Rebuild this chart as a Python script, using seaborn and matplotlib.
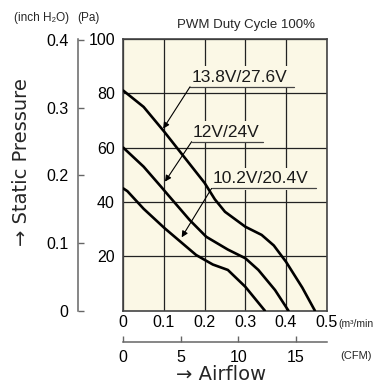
import numpy as np
import pandas as pd
import matplotlib
matplotlib.use("Agg")
import matplotlib.pyplot as plt
import seaborn as sns

# ---- data ----
x_hi = [0, 0.05, 0.1, 0.15, 0.2, 0.225, 0.25, 0.3, 0.34, 0.37, 0.4, 0.44, 0.471]
y_hi = [81, 75, 66, 56.5, 47, 41, 36.4, 30.9, 27.9, 24, 18, 8.5, 0]
x_mid = [0, 0.05, 0.093, 0.11, 0.163, 0.204, 0.257, 0.3, 0.332, 0.373, 0.406]
y_mid = [60, 53, 45.6, 42.6, 33.4, 27.2, 22.5, 19.3, 15, 7.6, 0]
x_lo = [0, 0.01, 0.05, 0.102, 0.179, 0.22, 0.257, 0.3, 0.348]
y_lo = [45, 44, 37.5, 30.3, 20.5, 17, 15, 8.8, 0]
series_names = ["13.8V/27.6V", "12V/24V", "10.2V/20.4V"]

pa_ticks = [20, 40, 60, 80, 100]
pa_labels = ["20", "40", "60", "80", "100"]
inch_ticks = [0, 0.1, 0.2, 0.3, 0.4]
inch_labels = ["0", "0.1", "0.2", "0.3", "0.4"]
m3_ticks = [0, 0.1, 0.2, 0.3, 0.4, 0.5]
m3_labels = ["0", "0.1", "0.2", "0.3", "0.4", "0.5"]
cfm_ticks = [0, 5, 10, 15]
cfm_labels = ["0", "5", "10", "15"]

# label annotation anchors: (underline x0, underline x1, underline y, arrow tip x, arrow tip y)
ann = {
    "13.8V/27.6V": (0.164, 0.42, 82.4, 0.098, 67.0),
    "12V/24V": (0.168, 0.343, 62.2, 0.1025, 47.5),
    "10.2V/20.4V": (0.217, 0.474, 45.0, 0.1435, 27.0),
}

df = pd.concat([
    pd.DataFrame({"airflow": x_hi, "pressure": y_hi, "series": series_names[0]}),
    pd.DataFrame({"airflow": x_mid, "pressure": y_mid, "series": series_names[1]}),
    pd.DataFrame({"airflow": x_lo, "pressure": y_lo, "series": series_names[2]}),
], ignore_index=True)

sns.set_theme(style="white")
FAM = ["Liberation Sans", "DejaVu Sans"]
plt.rcParams["font.family"] = FAM

BG = "#fbf8e6"
W, H = 390, 385
fig = plt.figure(figsize=(W / 100, H / 100), dpi=100)
L, R, T, B = 123.3, 326.7, 39.0, 310.7
ax = fig.add_axes([L / W, 1 - B / H, (R - L) / W, (B - T) / H])
ax.set_facecolor(BG)

sns.lineplot(data=df, x="airflow", y="pressure", units="series", estimator=None,
             sort=False, color="black", lw=1.9, legend=False, ax=ax, zorder=5)

TICK_FS = 11.5
ax.set_xlim(0, 0.5)
ax.set_ylim(0, 100)
ax.set_xlabel("")
ax.set_ylabel("")
ax.set_xticks(m3_ticks)
ax.set_xticklabels(m3_labels)
ax.set_yticks(pa_ticks)
ax.set_yticklabels(pa_labels)
ax.tick_params(axis="x", length=0, pad=3, labelsize=TICK_FS, colors="black")
ax.tick_params(axis="y", length=0, pad=6, labelsize=TICK_FS, colors="black")
ax.set_axisbelow(True)
ax.grid(True, color="#222222", lw=0.9)
for s in ax.spines.values():
    s.set_color("#444444")
    s.set_linewidth(1.2)

# outer inch H2O axis
sec_y = ax.secondary_yaxis(-45 / (R - L), functions=(lambda v: v / 249.09, lambda v: v * 249.09))
sec_y.set_yticks(inch_ticks)
sec_y.set_yticklabels(inch_labels)
sec_y.tick_params(direction="in", length=4, width=1, color="#666666", pad=7,
                  labelsize=TICK_FS, labelcolor="black")
sec_y.spines["left"].set_color("#666666")
sec_y.spines["left"].set_linewidth(1.1)

# lower CFM axis
sec_x = ax.secondary_xaxis(-31 / (B - T), functions=(lambda v: v * 35.3147, lambda v: v / 35.3147))
sec_x.set_xticks(cfm_ticks)
sec_x.set_xticklabels(cfm_labels)
sec_x.tick_params(direction="in", length=4, width=1, color="#666666", pad=6,
                  labelsize=TICK_FS, labelcolor="black")
sec_x.spines["bottom"].set_color("#666666")
sec_x.spines["bottom"].set_linewidth(1.1)

# curve labels with leaders
for name in series_names:
    x0, x1, yu, xt, yt = ann[name]
    ax.text(x0 + 0.003, yu + 0.8, name, fontsize=12.5, va="bottom", ha="left", zorder=3,
            color="#1a1a1a", bbox=dict(facecolor=BG, edgecolor="none", pad=2.5))
    ax.plot([x0, x1], [yu, yu], color="#444444", lw=0.9, zorder=4)
    ax.annotate("", xy=(xt, yt), xytext=(x0, yu),
                arrowprops=dict(arrowstyle="-|>", lw=0.8, color="black",
                                mutation_scale=9, shrinkA=0, shrinkB=0), zorder=4)

def ft(px, py, s, **kw):
    fig.text(px / W, 1 - py / H, s, **kw)

ft(14, 18, "(inch H₂O)", fontsize=8.5, va="center", ha="left")
ft(77, 18, "(Pa)", fontsize=8.5, va="center", ha="left")
ft(177, 25, "PWM Duty Cycle 100%", fontsize=9.5, va="center", ha="left")
ft(338, 324, "(m³/min", fontsize=7.5, va="center", ha="left")
ft(340, 356, "(CFM)", fontsize=8, va="center", ha="left")
ft(221, 375, "→ Airflow", fontsize=14, va="center", ha="center", family=["DejaVu Sans"])
ft(22, 162, "→ Static Pressure", fontsize=14, va="center", ha="center", rotation=90,
   family=["DejaVu Sans"])

fig.savefig("out.png", dpi=100, facecolor="white")
